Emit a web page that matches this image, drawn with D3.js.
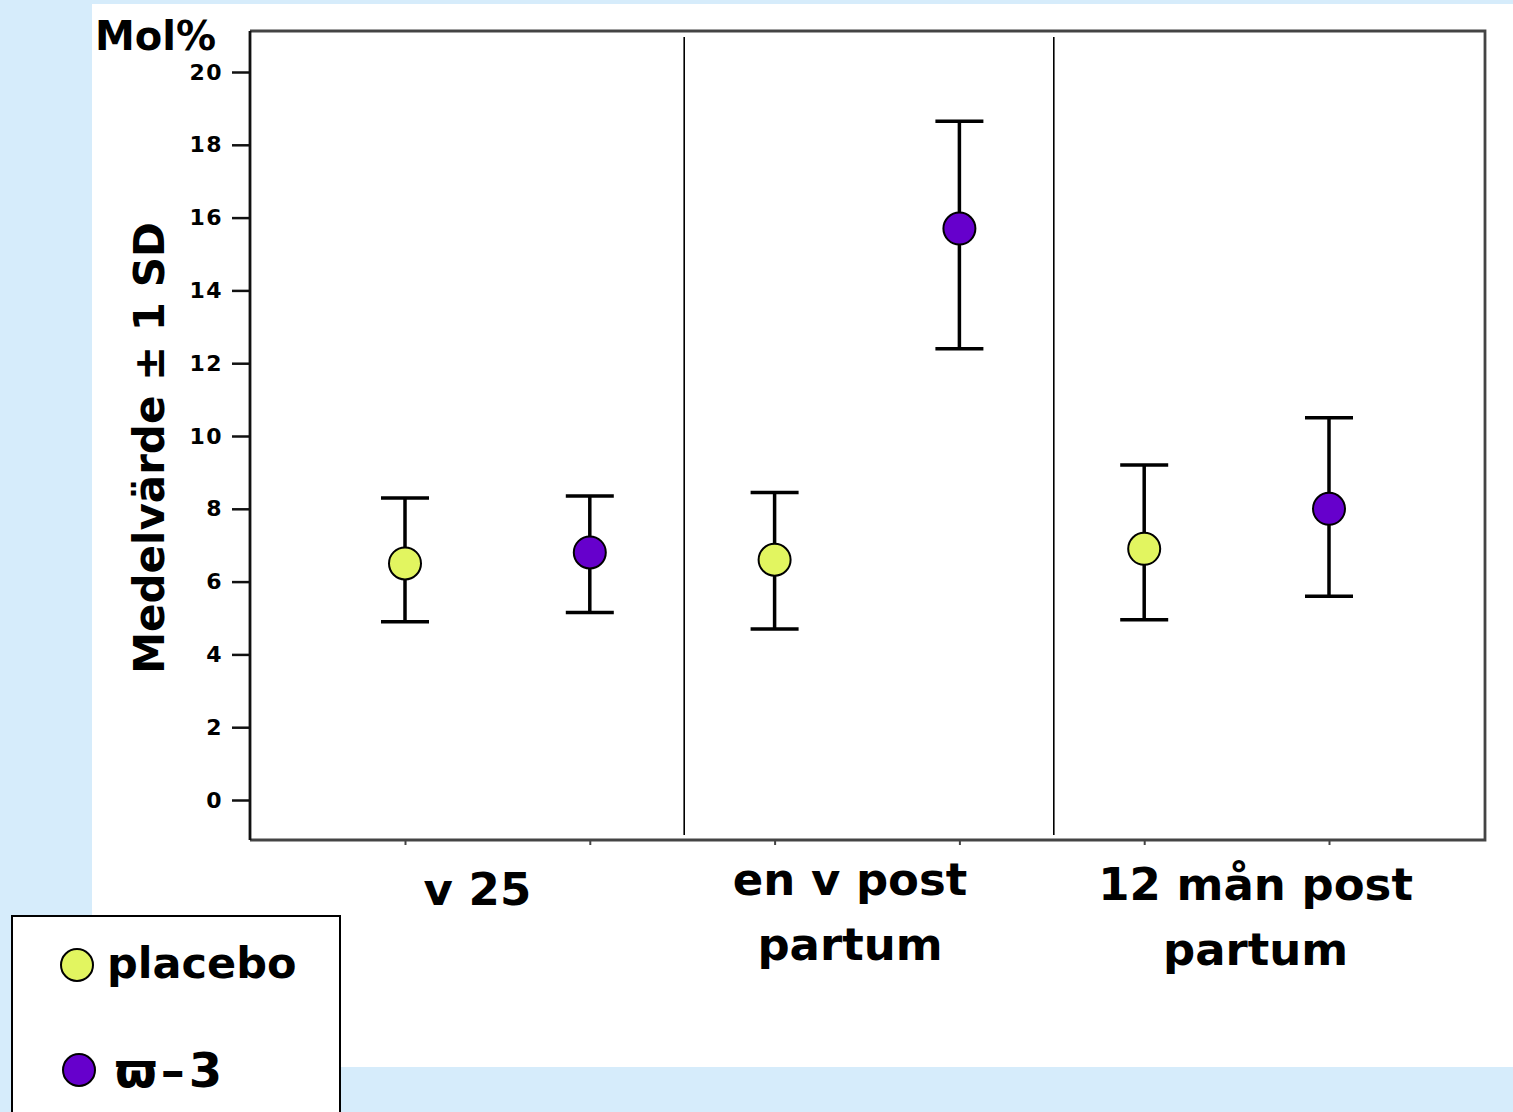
<!DOCTYPE html>
<html>
<head>
<meta charset="utf-8">
<script src="https://cdn.jsdelivr.net/npm/d3@7"></script>
<style>
  body { margin: 0; background: #d6ecfb; }
  svg { display: block; }
  text { font-family: "DejaVu Sans", sans-serif; font-weight: bold; fill: #000; }
</style>
</head>
<body>
<svg id="chart" width="1513" height="1112"></svg>
<script>
// data
var groups = ["v 25", "en v post partum", "12 mån post partum"];
var groupLines = [["v 25"], ["en v post", "partum"], ["12 mån post", "partum"]];
var series = ["placebo", "ϖ–3"];
var seriesColors = ["#e2f560", "#6600cc"];
var meanValues = [[6.5, 6.6, 6.9], [6.8, 15.7, 8.0]];
var lowValues = [[4.9, 4.7, 4.95], [5.15, 12.4, 5.6]];
var highValues = [[8.3, 8.45, 9.2], [8.35, 18.65, 10.5]];
var yTicks = [0, 2, 4, 6, 8, 10, 12, 14, 16, 18, 20];

var svg = d3.select("#chart");

// white slide panel
svg.append("rect").attr("x", 92).attr("y", 4).attr("width", 1421).attr("height", 1063).attr("fill", "#fff");

var frame = { left: 250, top: 31, right: 1485, bottom: 840 };

var y = d3.scaleLinear().domain([0, 20]).range([800, 72]);

// one slot per (group, series)
var slots = [];
groups.forEach(function (g, gi) {
  series.forEach(function (s, si) {
    slots.push({ key: g + "|" + s, group: gi, series: si,
      mean: meanValues[si][gi], low: lowValues[si][gi], high: highValues[si][gi] });
  });
});
var x = d3.scalePoint().domain(slots.map(function (d) { return d.key; })).range([405, 1329]);

// frame (top / right / bottom, grey)
svg.append("path")
  .attr("d", "M" + frame.left + "," + frame.top + "H" + frame.right + "V" + frame.bottom + "H" + frame.left)
  .attr("fill", "none").attr("stroke", "#444").attr("stroke-width", 2.8);

// y axis
var yAxis = svg.append("g")
  .attr("transform", "translate(" + frame.left + ",0)")
  .call(d3.axisLeft(y).tickValues(yTicks).tickSize(18).tickPadding(9));
yAxis.select(".domain").remove();
yAxis.selectAll(".tick line").attr("stroke", "#111").attr("stroke-width", 2.5);
yAxis.selectAll(".tick text")
  .style("font-size", "22px").style("letter-spacing", "1.5px")
  .attr("font-family", null).attr("fill", "#111");
svg.append("line")
  .attr("x1", frame.left).attr("x2", frame.left).attr("y1", frame.top).attr("y2", frame.bottom)
  .attr("stroke", "#111").attr("stroke-width", 2.8);

// x axis ticks
var xAxis = svg.append("g")
  .attr("transform", "translate(0," + frame.bottom + ")")
  .call(d3.axisBottom(x).tickSize(5).tickFormat(""));
xAxis.select(".domain").remove();
xAxis.selectAll(".tick line").attr("stroke", "#444").attr("stroke-width", 2);

// group separators
for (var gi = 1; gi < groups.length; gi++) {
  var xs = (x(groups[gi - 1] + "|" + series[1]) + x(groups[gi] + "|" + series[0])) / 2;
  svg.append("line")
    .attr("x1", xs + 2).attr("x2", xs + 2).attr("y1", 37).attr("y2", 835)
    .attr("stroke", "#000").attr("stroke-width", 1.6);
}

// error bars
var bars = svg.append("g").selectAll("g").data(slots).join("g");
bars.append("line")
  .attr("x1", function (d) { return x(d.key); }).attr("x2", function (d) { return x(d.key); })
  .attr("y1", function (d) { return y(d.low); }).attr("y2", function (d) { return y(d.high); })
  .attr("stroke", "#000").attr("stroke-width", 3.5);
["low", "high"].forEach(function (k) {
  bars.append("line")
    .attr("x1", function (d) { return x(d.key) - 24; }).attr("x2", function (d) { return x(d.key) + 24; })
    .attr("y1", function (d) { return y(d[k]); }).attr("y2", function (d) { return y(d[k]); })
    .attr("stroke", "#000").attr("stroke-width", 3.5);
});
bars.append("circle")
  .attr("cx", function (d) { return x(d.key); })
  .attr("cy", function (d) { return y(d.mean); })
  .attr("r", 16)
  .attr("fill", function (d) { return seriesColors[d.series]; })
  .attr("stroke", "#000").attr("stroke-width", 2);

// group labels
var labelShift = [-20, -17, 19];
var labelBase = [905, 895, 900];
groupLines.forEach(function (lines, gi) {
  var cx = (x(groups[gi] + "|" + series[0]) + x(groups[gi] + "|" + series[1])) / 2 + labelShift[gi];
  var t = svg.append("text").attr("text-anchor", "middle").style("font-size", "45px");
  lines.forEach(function (ln, li) {
    t.append("tspan").attr("x", cx).attr("y", labelBase[gi] + li * 65).text(ln);
  });
});

// titles
svg.append("text").attr("x", 95).attr("y", 50).style("font-size", "40px").text("Mol%");
svg.append("text")
  .attr("transform", "translate(164,448) rotate(-90)")
  .attr("text-anchor", "middle")
  .style("font-size", "42px")
  .text("Medelvärde ± 1 SD");

// legend
var legend = svg.append("g");
legend.append("rect").attr("x", 12).attr("y", 916).attr("width", 328).attr("height", 210)
  .attr("fill", "#fff").attr("stroke", "#000").attr("stroke-width", 2);
var legendY = [965, 1070];
series.forEach(function (s, i) {
  legend.append("circle").attr("cx", 77 + i * 2).attr("cy", legendY[i]).attr("r", 16)
    .attr("fill", seriesColors[i]).attr("stroke", "#000").attr("stroke-width", 2);
  legend.append("text").attr("x", 107 + i * 8).attr("y", legendY[i] + 13 + i * 4)
    .style("font-size", i === 0 ? "43px" : "48px")
    .style("letter-spacing", i === 0 ? "0px" : "4px")
    .text(s);
});
</script>
</body>
</html>
